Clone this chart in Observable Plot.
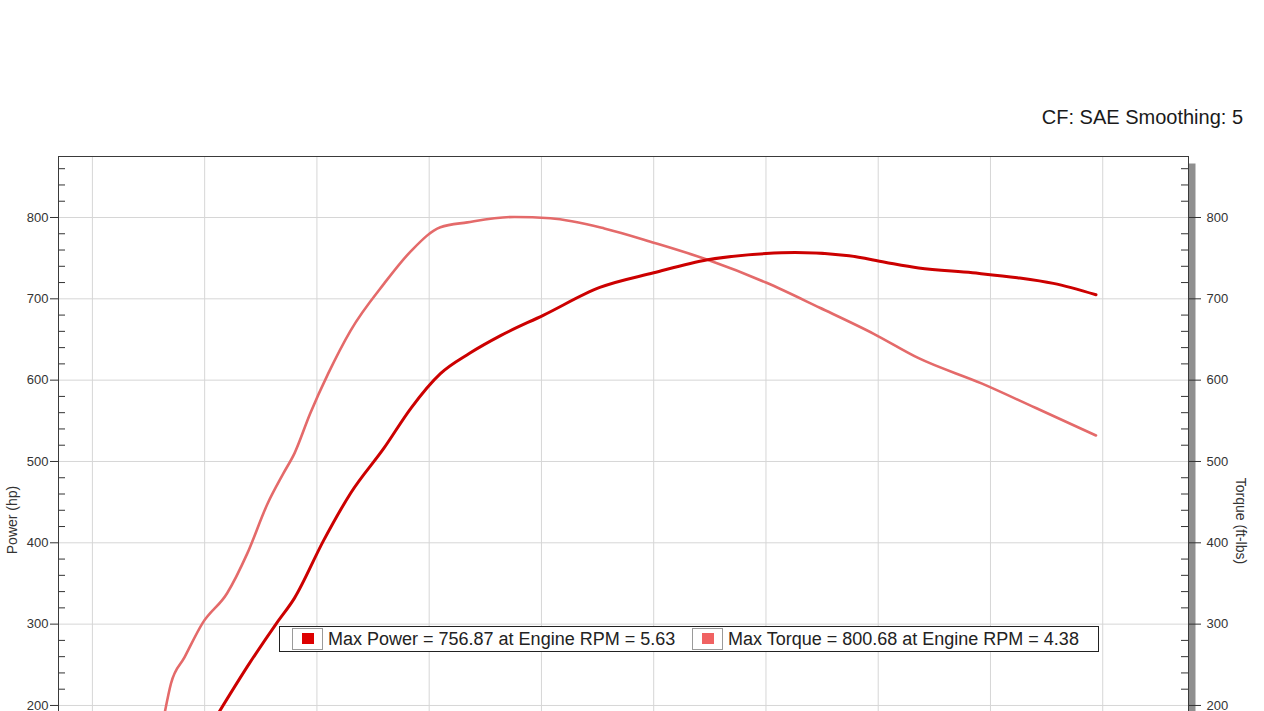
<!DOCTYPE html>
<html>
<head>
<meta charset="utf-8">
<script src="https://cdn.jsdelivr.net/npm/d3@7"></script>
<script src="https://cdn.jsdelivr.net/npm/@observablehq/plot@0.6"></script>
<style>
  html, body { margin: 0; padding: 0; background: #fff; }
  #page { position: relative; width: 1264px; height: 711px; overflow: hidden; background: #fff;
          font-family: "Liberation Sans", Arial, sans-serif; color: #222; }
  #chart { position: absolute; left: 0; top: 0; }
  .abs { position: absolute; white-space: nowrap; }
  #title { right: 21px; top: 107px; font-size: 20px; line-height: 20px; color: #1a1a1a; }
  .ylab { font-size: 14px; line-height: 14px; color: #333; }
  #legend { position: absolute; left: 279px; top: 626px; width: 820px; height: 26px; box-sizing: border-box;
            border: 1px solid #222; background: #fff; }
  .swbox { position: absolute; top: 1px; width: 31px; height: 22px; box-sizing: border-box; border: 1px solid #9a9a9a; background: #fff; }
  .sw { position: absolute; left: 9px; top: 4px; width: 12px; height: 11px; }
  .ltxt { position: absolute; top: 2px; font-size: 18px; line-height: 20px; color: #222; }
</style>
</head>
<body>
<div id="page">
  <div id="chart"></div>
  <div id="title" class="abs"></div>
  <div id="ylabL" class="abs ylab"></div>
  <div id="ylabR" class="abs ylab"></div>
  <div id="legend"></div>
</div>
<script>
// ---- data ----
const titleText = "CF: SAE Smoothing: 5";
const leftAxisLabel = "Power (hp)";
const rightAxisLabel = "Torque (ft-lbs)";

const rpmPower = [3.06, 3.20, 3.32, 3.40, 3.53, 3.65, 3.80, 3.92, 4.05, 4.18, 4.32, 4.51, 4.76, 5.00, 5.24, 5.50, 5.63, 5.87, 6.03, 6.18, 6.42, 6.62, 6.78, 6.97];
const power    = [190, 252, 301, 332, 403, 461, 517, 566, 608, 633, 655, 680, 714, 732, 748, 755.7, 756.87, 753, 745, 738, 732, 726, 719, 705];

const rpmTorque = [2.82, 2.85, 2.91, 2.99, 3.10, 3.19, 3.28, 3.35, 3.40, 3.47, 3.55, 3.65, 3.80, 3.92, 4.05, 4.17, 4.38, 4.54, 4.78, 5.00, 5.24, 5.50, 5.74, 5.98, 6.18, 6.46, 6.70, 6.97];
const torque    = [188, 227, 259, 301, 338, 387, 448, 485, 510, 559, 608, 661, 719, 759, 788, 794, 800.68, 799, 786.5, 769, 748, 720, 689, 657, 627, 596, 566, 532];

const xGridTicks = [2.5, 3.0, 3.5, 4.0, 4.5, 5.0, 5.5, 6.0, 6.5, 7.0];
const yMajorTicks = [200, 300, 400, 500, 600, 700, 800];
const yMinorTicks = [180, 220, 240, 260, 280, 320, 340, 360, 380, 420, 440, 460, 480, 520, 540, 560, 580, 620, 640, 660, 680, 720, 740, 760, 780, 820, 840, 860];

const legendLabels = ["Max Power = 756.87 at Engine RPM = 5.63", "Max Torque = 800.68 at Engine RPM = 4.38"];
const seriesColors = ["#cc0000", "#e46a6a"];
const swatchColors = ["#dd0000", "#f06262"];

// ---- build tables ----
const powerData = rpmPower.map((r, i) => ({rpm: r, v: power[i]}));
const torqueData = rpmTorque.map((r, i) => ({rpm: r, v: torque[i]}));

const chart = Plot.plot({
  width: 1264,
  height: 720,
  marginTop: 156,
  marginLeft: 58,
  marginRight: 76,
  marginBottom: 0,
  x: {domain: [2.349, 7.382], axis: null},
  y: {domain: [181.5, 875]},
  style: {fontFamily: "'Liberation Sans', Arial, sans-serif", fontSize: "13px", color: "#333", background: "transparent"},
  marks: [
    Plot.frame({fill: "#8f8f8f", dx: 7, dy: 7}),
    Plot.frame({fill: "white"}),
    Plot.gridX(xGridTicks, {stroke: "#d6d6d6", strokeOpacity: 1}),
    Plot.gridY(yMajorTicks, {stroke: "#d6d6d6", strokeOpacity: 1}),
    Plot.axisY(yMajorTicks, {anchor: "left", tickSize: 8, tickPadding: 2, label: null, tickFormat: d => String(d)}),
    Plot.axisY(yMinorTicks, {anchor: "left", tickSize: -7, label: null, tickFormat: () => ""}),
    Plot.axisY(yMajorTicks, {anchor: "right", tickSize: 12, tickPadding: 6, label: null, tickFormat: d => String(d)}),
    Plot.axisY(yMinorTicks, {anchor: "right", tickSize: -8, label: null, tickFormat: () => ""}),
    Plot.line(torqueData, {x: "rpm", y: "v", stroke: seriesColors[1], strokeWidth: 2.6, curve: "monotone-x", clip: true}),
    Plot.line(powerData, {x: "rpm", y: "v", stroke: seriesColors[0], strokeWidth: 3, curve: "monotone-x", clip: true}),
    Plot.frame({stroke: "#3a3a3a", strokeWidth: 1})
  ]
});
document.getElementById("chart").appendChild(chart);

// ---- text around the chart ----
document.getElementById("title").textContent = titleText;
const yl = document.getElementById("ylabL");
yl.textContent = leftAxisLabel;
yl.style.left = "12px"; yl.style.top = "520px"; yl.style.transform = "translate(-50%,-50%) rotate(-90deg)";
const yr = document.getElementById("ylabR");
yr.textContent = rightAxisLabel;
yr.style.left = "1241px"; yr.style.top = "521px"; yr.style.transform = "translate(-50%,-50%) rotate(90deg)";

// ---- legend ----
const legend = document.getElementById("legend");
const swLeft = [12, 412];
const txtLeft = [48, 448];
legendLabels.forEach((lab, i) => {
  const box = document.createElement("div");
  box.className = "swbox"; box.style.left = swLeft[i] + "px";
  const sq = document.createElement("div");
  sq.className = "sw"; sq.style.background = swatchColors[i];
  box.appendChild(sq);
  legend.appendChild(box);
  const t = document.createElement("div");
  t.className = "ltxt"; t.style.left = txtLeft[i] + "px";
  t.textContent = lab;
  legend.appendChild(t);
});
</script>
</body>
</html>
